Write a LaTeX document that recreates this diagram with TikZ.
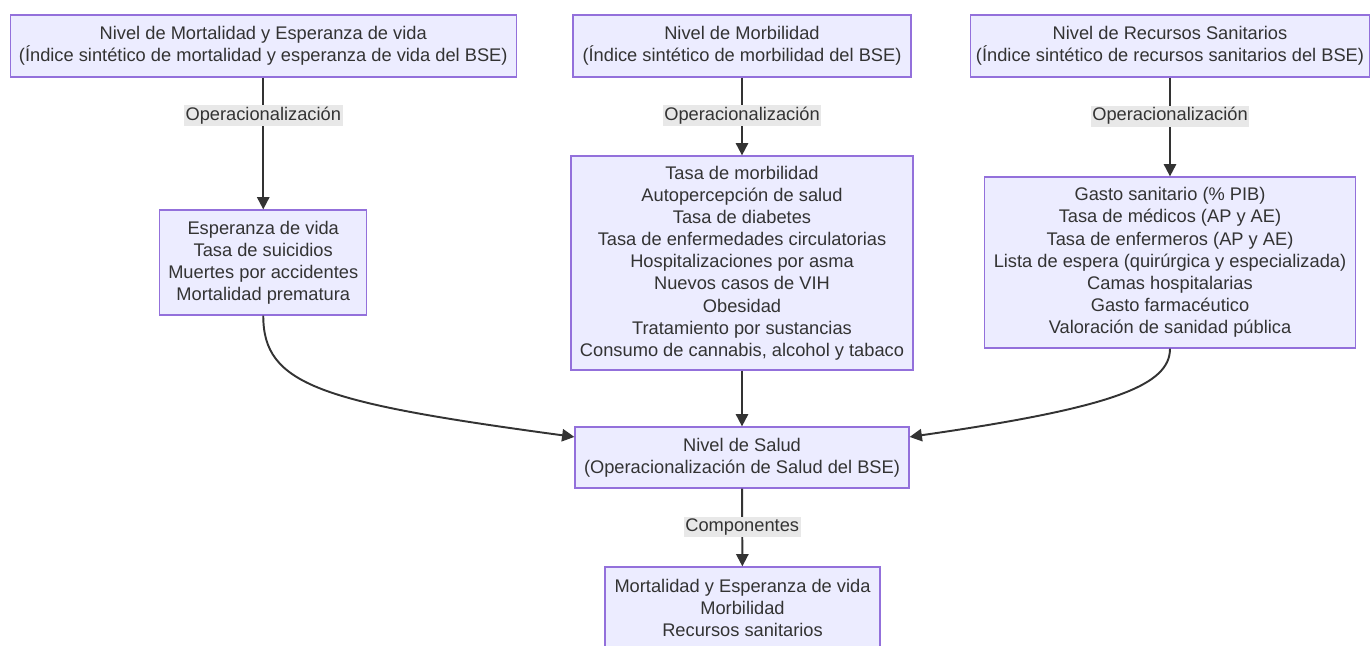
\documentclass[tikz,border=0pt]{standalone}
\usepackage{fontspec}
\setmainfont{Liberation Sans}
\usepackage{tikz}
\usetikzlibrary{arrows.meta}				%TikZ Libraries
\definecolor{boxfill}{HTML}{ECECFF}
\definecolor{boxline}{HTML}{9370DB}
\definecolor{ink}{HTML}{333333}
\definecolor{lblfill}{HTML}{E8E8E8}
\tikzset{
	nivel/.style={draw=boxline, fill=boxfill, line width=0.7pt, align=center,
		text=ink, inner sep=0pt, font=\fontsize{10.4}{12.6}\selectfont},
	flecha/.style={draw=ink, line width=1.1pt,
		-{Triangle[length=7pt, width=7pt]}},
	etiq/.style={fill=lblfill, text=ink, inner sep=1pt,
		font=\fontsize{10.4}{11}\selectfont}
}

\begin{document}
\begin{tikzpicture}
		\useasboundingbox (0,0) rectangle (27.42,12.9);
		\node[nivel, minimum width=10.12cm, minimum height=1.24cm] (mort) at (5.265,11.98)
		{Nivel de Mortalidad y Esperanza de vida\\(Índice sintético de mortalidad y esperanza de vida del BSE)};
		\node[nivel, minimum width=6.76cm, minimum height=1.24cm] (morb) at (14.84,11.98)
		{Nivel de Morbilidad\\(Índice sintético de morbilidad del BSE)};
		\node[nivel, minimum width=7.98cm, minimum height=1.24cm] (recu) at (23.4,11.98)
		{Nivel de Recursos Sanitarios\\(Índice sintético de recursos sanitarios del BSE)};
		\node[nivel, minimum width=4.14cm, minimum height=2.1cm] (indmort) at (5.265,7.65)
		{Esperanza de vida\\Tasa de suicidios\\Muertes por accidentes\\Mortalidad prematura};
		\node[nivel, minimum width=6.84cm, minimum height=4.28cm] (indmorb) at (14.84,7.64)
		{Tasa de morbilidad\\Autopercepción de salud\\Tasa de diabetes\\
		Tasa de enfermedades circulatorias\\Hospitalizaciones por asma\\Nuevos casos de VIH\\
		Obesidad\\Tratamiento por sustancias\\Consumo de cannabis, alcohol y tabaco};
		\node[nivel, minimum width=7.42cm, minimum height=3.42cm] (indrecu) at (23.4,7.65)
		{Gasto sanitario (\% PIB)\\Tasa de médicos (AP y AE)\\Tasa de enfermeros (AP y AE)\\
		Lista de espera (quirúrgica y especializada)\\Camas hospitalarias\\
		Gasto farmacéutico\\Valoración de sanidad pública};
		\node[nivel, minimum width=6.68cm, minimum height=1.22cm] (salud) at (14.84,3.75)
		{Nivel de Salud\\(Operacionalización de Salud del BSE)};
		\node[nivel, minimum width=5.5cm, minimum height=1.64cm] (comp) at (14.85,0.74)
		{Mortalidad y Esperanza de vida\\Morbilidad\\Recursos sanitarios};
		\draw[flecha] (mort) -- (indmort)
		node[etiq, pos=0.29]{Operacionalización};
		\draw[flecha] (morb) -- (indmorb)
		node[etiq, pos=0.49]{Operacionalización};
		\draw[flecha] (recu) -- (indrecu)
		node[etiq, pos=0.39]{Operacionalización};
		\draw[flecha] (indmort.south) .. controls (5.265,5.2) and (6.4,4.85) .. (salud.173);
		\draw[flecha] (indmorb) -- (salud);
		\draw[flecha] (indrecu.south) .. controls (23.4,5.2) and (22.3,4.75) .. (salud.7.8);
		\draw[flecha] (salud) -- (comp)
		node[etiq, pos=0.49]{Componentes};
		\end{tikzpicture}
\end{document}
